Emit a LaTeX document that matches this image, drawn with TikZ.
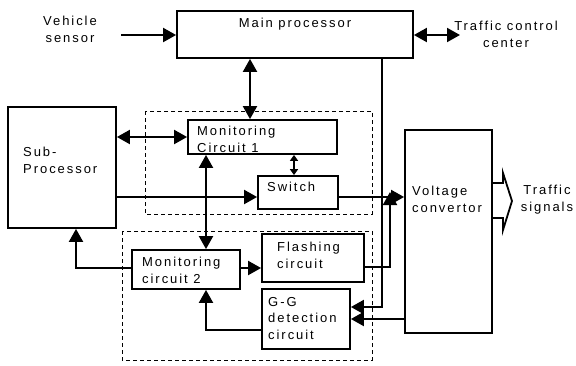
\documentclass[tikz,border=0pt]{standalone}
\usepackage{fontspec}
\setmainfont{Liberation Sans}[LetterSpace=15]
\usetikzlibrary{arrows.meta}

\begin{document}
\begin{tikzpicture}[
                x=1pt, y=-1pt,
                box/.style={draw, line width=1.8pt, inner sep=0pt},
                txt/.style={inner sep=0pt, align=left, font=\fontsize{13}{16.5}\selectfont},
                group/.style={line width=0.9pt, dash pattern=on 4pt off 3pt},
                conn/.style={line width=2pt},
                arr/.style={conn, -{Triangle[length=13pt,width=14pt]}},
                darr/.style={conn, {Triangle[length=13pt,width=14pt]}-{Triangle[length=13pt,width=14pt]}},
                sdarr/.style={conn, {Triangle[length=6pt,width=8pt]}-{Triangle[length=6pt,width=8pt]}}
            ]

                \useasboundingbox (0,0) rectangle (576,365);

                % Dashed groups
                \draw[group] (145,111) rectangle (372,214);
                \draw[group] (122,231) rectangle (372,360);

                % Main blocks
                \node[box, minimum width=236, minimum height=47] (main) at (295,34.5) {};
                \node[box, minimum width=108, minimum height=121] (sub) at (62,167.5) {};
                \node[box, minimum width=149, minimum height=34] (mc1) at (262.5,137) {};
                \node[box, minimum width=80, minimum height=33] (switch) at (298,192.5) {};
                \node[box, minimum width=108, minimum height=39] (mc2) at (186,269.5) {};
                \node[box, minimum width=102, minimum height=48] (flash) at (313,258) {};
                \node[box, minimum width=88, minimum height=60] (gg) at (306,319) {};
                \node[box, minimum width=87, minimum height=203] (vc) at (448.5,231.5) {};

                % Texts
                \node[txt, anchor=north, align=center] (vstxt) at (70,16) {Vehicle\\sensor};
                \node[txt, anchor=north] (maintxt) at (295,18) {Main processor};
                \node[txt, anchor=north, align=center] (tcctxt) at (506,21) {Traffic control\\center};
                \node[txt, anchor=north west] (subtxt) at (23,147) {Sub-\\Processor};
                \node[txt, anchor=north west] (mc1txt) at (197,126) {Monitoring\\Circuit 1};
                \node[txt, anchor=north west] (swtxt) at (267,182) {Switch};
                \node[txt, anchor=north west] (mc2txt) at (142,257) {Monitoring\\circuit 2};
                \node[txt, anchor=north west] (flashtxt) at (277,242) {Flashing\\circuit};
                \node[txt, anchor=north west] (ggtxt) at (268,297) {G-G\\detection\\circuit};
                \node[txt, anchor=north west] (vctxt) at (412,186) {Voltage\\convertor};
                \node[txt, anchor=north, align=center] (tstxt) at (547,185) {Traffic\\signals};

                % Free ends and tap points
                \coordinate (vsend) at (121,35);
                \coordinate (tccend) at (460,35);
                \coordinate (swline) at (0,197);
                \coordinate (midx) at (206,0);
                \coordinate (flashup) at (390,192);

                % Connectors
                \draw[arr] (vsend) -- (vsend -| main.west);
                \draw[darr] (main.east |- tccend) -- (tccend);
                \draw[darr] ([xshift=-45pt]main.south) -- ([xshift=-45pt]main.south |- mc1.north);
                \draw[darr] (mc1.west -| sub.east) -- (mc1.west);
                \draw[sdarr] ([xshift=-4pt]switch.north |- mc1.south) -- ([xshift=-4pt]switch.north);
                \draw[arr] (sub.east |- swline) -- (switch.west |- swline);
                \draw[arr] (switch.east |- swline) -- (vc.west |- swline);
                \draw[darr] (mc1.south -| midx) -- (mc2.north -| midx);
                \draw[arr] (mc2.east |- 0,268) -- (flash.west |- 0,268);
                \draw[arr] (mc2.west |- 0,268) -| ([xshift=14pt]sub.south);
                \draw[arr] (gg.west |- 0,330) -| (mc2.south -| midx);
                \draw[arr] (flash.east |- 0,267) -| (flashup);
                \draw[arr] (main.south -| 382,0) |- (gg.east |- 0,307);
                \draw[arr] (vc.west |- gg.east) -- (gg.east);

                % Hollow output arrow
                \draw[line width=1.8pt] (vc.east |- 0,183) -- (503,183) -- (503,173) -- (512,201)
                    -- (503,230) -- (503,218) -- (vc.east |- 0,218);

            \end{tikzpicture}
\end{document}
